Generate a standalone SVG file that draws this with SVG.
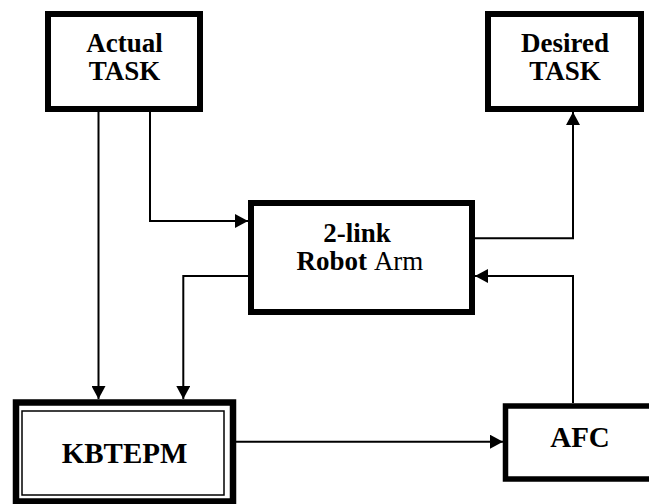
<svg xmlns="http://www.w3.org/2000/svg" width="649" height="504" viewBox="0 0 649 504">
<defs>
<marker id="ah" markerUnits="userSpaceOnUse" markerWidth="14" markerHeight="14" viewBox="0 0 13 14" refX="13" refY="7" orient="auto">
<path d="M0,0 L13,7 L0,14 Z" fill="#000"/>
</marker>
<style>
.box{fill:#fff;stroke:#000;stroke-width:6}
.t{font-family:"Liberation Serif","Times New Roman",serif;font-weight:bold;font-size:27px;fill:#000;text-anchor:middle}
.big{font-size:29px}
.c{fill:none;stroke:#000;stroke-width:2}
</style>
</defs>
<rect width="649" height="504" fill="#fff"/>
<g id="actual">
<rect class="box" x="48" y="14" width="152" height="95"/>
<text class="t" x="124.5" y="52">Actual</text>
<text class="t" x="124.5" y="80">TASK</text>
</g>
<g id="desired">
<rect class="box" x="488" y="14" width="153" height="95"/>
<text class="t" x="565" y="52">Desired</text>
<text class="t" x="565" y="80">TASK</text>
</g>
<g id="robot">
<rect class="box" x="251" y="203" width="221" height="109"/>
<text class="t" x="357" y="242">2-link</text>
<text class="t" x="360" y="270">Robot <tspan font-weight="normal">Arm</tspan></text>
</g>
<g id="kbtepm">
<rect x="16" y="402.5" width="217" height="99" fill="#fff" stroke="#000" stroke-width="6.5"/>
<rect x="22" y="411" width="202" height="84" fill="none" stroke="#000" stroke-width="1.5"/>
<text class="t big" x="124.5" y="463">KBTEPM</text>
</g>
<g id="afc">
<rect x="505.5" y="406" width="200" height="73" fill="#fff" stroke="#000" stroke-width="5.5"/>
<text class="t big" x="580" y="447">AFC</text>
</g>
<g id="connectors">
<path class="c" d="M98.5,112 V399" marker-end="url(#ah)"/>
<path class="c" d="M150,112 V221 H248" marker-end="url(#ah)"/>
<path class="c" d="M248,276 H183.3 V399" marker-end="url(#ah)"/>
<path class="c" d="M475,238.3 H573 V112" marker-end="url(#ah)"/>
<path class="c" d="M573,403 V276 H475" marker-end="url(#ah)"/>
<path class="c" d="M236,441.7 H503" marker-end="url(#ah)"/>
</g>
</svg>
